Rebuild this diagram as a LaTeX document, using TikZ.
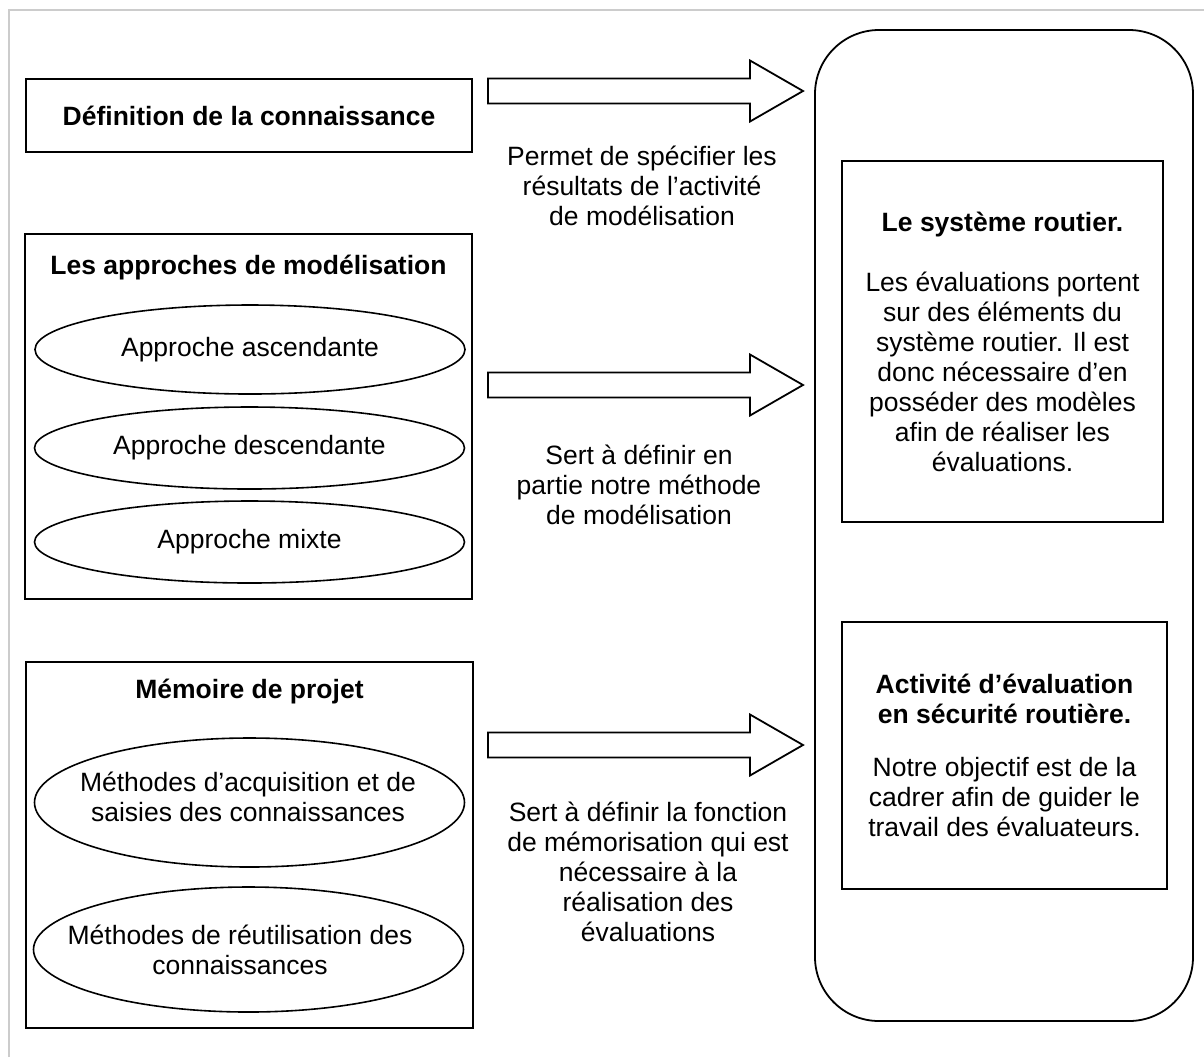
\documentclass[tikz,border=0pt]{standalone}
\usepackage{fontspec}
\setmainfont{Liberation Sans}
\usetikzlibrary{shapes.geometric}

\begin{document}
\begin{tikzpicture}[x=0.5pt,y=-0.5pt,
    every node/.style={font=\fontsize{13.25pt}{15pt}\selectfont, align=center, inner sep=0pt},
    cadre/.style={draw, line width=0.9pt, rectangle},
    oval/.style={draw, ellipse, line width=0.8pt, minimum width=215pt},
    fleche/.style={draw, line width=0.9pt, line join=miter}]
	\useasboundingbox (0,0) rectangle (1204,1057);
	\draw[black!20, line width=0.8pt] (9,1057) -- (9,10) -- (1204,10);
	% colonne de gauche
	\node[cadre, minimum width=223pt, minimum height=36.5pt] (def) at (249,115.5) {\textbf{Définition de la connaissance}};
	\node[cadre, minimum width=223.5pt, minimum height=182.5pt] (appr) at (248.5,416.5) {};
	\node (apprtitre) at (248.5,268) {\textbf{Les approches de modélisation}};
	\node[oval, minimum height=44.5pt] (asc) at (250,349.5) {};
	\node at (asc) {Approche ascendante};
	\node[oval, minimum height=41pt] (desc) at (249.5,448) {};
	\node at (desc) {Approche descendante};
	\node[oval, minimum height=41pt] (mixte) at (249.5,542) {};
	\node at (mixte) {Approche mixte};
	\node[cadre, minimum width=223.5pt, minimum height=183pt] (mem) at (249.5,845) {};
	\node (memtitre) at (249.5,692) {\textbf{Mémoire de projet}};
	\node[oval, minimum height=64.5pt] (acq) at (249.5,802.5) {};
	\node at (248,797) {Méthodes d’acquisition et de\\saisies des connaissances};
	\node[oval, minimum height=62.5pt] (reut) at (248.5,949.5) {};
	\node at (240,950) {Méthodes de réutilisation des\\connaissances};
	% colonne de droite
	\node[cadre, rounded corners=32pt, minimum width=189pt, minimum height=495.5pt] (sys) at (1004,525.5) {};
	\node[cadre, minimum width=160.5pt, minimum height=180.5pt] (routier) at (1002.5,341.5)
		{\textbf{Le système routier.}\\[15pt]Les évaluations portent\\sur des éléments du\\système routier. Il est\\donc nécessaire d’en\\posséder des modèles\\afin de réaliser les\\évaluations.};
	\node[cadre, minimum width=162.5pt, minimum height=133.5pt] (eval) at (1004.5,755.5)
		{\textbf{Activité d’évaluation}\\\textbf{en sécurité routière.}\\[11.5pt]Notre objectif est de la\\cadrer afin de guider le\\travail des évaluateurs.};
	% fleches
	\coordinate (f1) at (488,91);
	\coordinate (f2) at (488,385);
	\coordinate (f3) at (488,745);
	\draw[fleche] (f1) ++(0,-12.5) -- ++(262,0) -- ++(0,-18) -- ++(53,30.5) -- ++(-53,30.5) -- ++(0,-18) -- ++(-262,0) -- cycle;
	\draw[fleche] (f2) ++(0,-12.5) -- ++(262,0) -- ++(0,-18) -- ++(53,30.5) -- ++(-53,30.5) -- ++(0,-18) -- ++(-262,0) -- cycle;
	\draw[fleche] (f3) ++(0,-12.5) -- ++(262,0) -- ++(0,-18) -- ++(53,30.5) -- ++(-53,30.5) -- ++(0,-18) -- ++(-262,0) -- cycle;
	\node (lab1) at (642,186) {Permet de spécifier les\\résultats de l’activité\\de modélisation};
	\node (lab2) at (639,485) {Sert à définir en\\partie notre méthode\\de modélisation};
	\node (lab3) at (648,872) {Sert à définir la fonction\\de mémorisation qui est\\nécessaire à la\\réalisation des\\évaluations};
\end{tikzpicture}
\end{document}
